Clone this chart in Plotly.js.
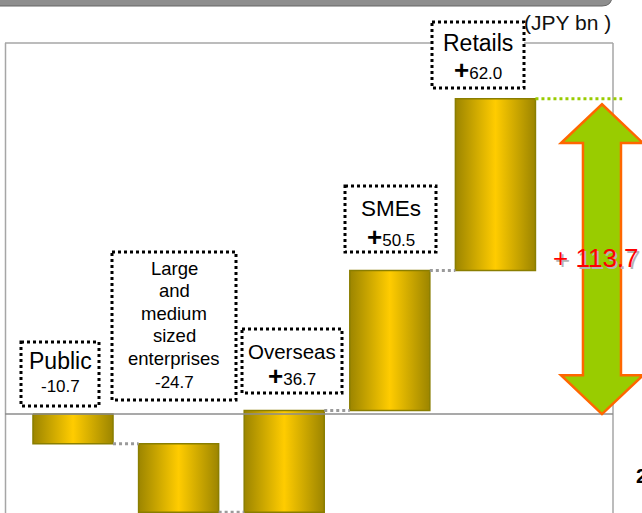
<!DOCTYPE html>
<html><head><meta charset="utf-8">
<script src="https://cdn.plot.ly/plotly-3.0.1.min.js"></script>
<style>html,body{margin:0;padding:0;background:#fff}#chart{width:642px;height:513px}</style>
</head><body><div id="chart"></div>
<script>
// ---- data ----
const categories = ['Public', 'Large and medium sized enterprises', 'Overseas', 'SMEs', 'Retails'];
const changes = [-10.7, -24.7, 36.7, 50.5, 62.0];
const totalChange = 113.7;
const totalLabel = '+ 113.7';
const unitLabel = '(JPY bn )';

// ---- layout geometry (style) ----
const W = 642, H = 513, ML = 5, MR = 0, MT = 43, MB = 0;
const xRange = [-0.644, 5.388], yRange = [-35.7, 133.9];
const xp = px => (px - ML) / (W - ML - MR);
const yp = py => (H - MB - py) / (H - MT - MB);
const FONT = '"Liberation Sans",Arial,sans-serif';

// cumulative levels
const bases = [], ends = [];
let cum = 0;
changes.forEach(v => { bases.push(cum); cum += v; ends.push(cum); });
const halfW = 0.379;

const traces = changes.map((v, i) => ({
  type: 'scatter', mode: 'lines',
  x: [i - halfW, i + halfW, i + halfW, i - halfW, i - halfW],
  y: [bases[i], bases[i], ends[i], ends[i], bases[i]],
  fill: 'toself', fillcolor: '#FFCC00',
  fillgradient: {type: 'horizontal', colorscale: [[0, '#9C8500'], [0.5, '#FFCC00'], [1, '#9C8500']]},
  line: {color: '#8A7E00', width: 1.5},
  name: categories[i], hoverinfo: 'skip', showlegend: false
}));

const shapes = [];
// partial banner at top
shapes.push({type: 'path', xref: 'paper', yref: 'paper',
  path: `M ${xp(-10)},${yp(-30)} L ${xp(600)},${yp(-30)} Q ${xp(612)},${yp(-30)} ${xp(612)},${yp(-5)} L ${xp(612)},${yp(-4)} Q ${xp(612)},${yp(6)} ${xp(602)},${yp(6)} L ${xp(-10)},${yp(6)} Z`,
  fillcolor: '#8E8E8E', line: {color: '#666', width: 1}});
// frame
const frameCol = '#A6A6A6';
shapes.push({type: 'line', xref: 'paper', yref: 'paper', x0: xp(5), x1: xp(613), y0: 1, y1: 1, line: {color: frameCol, width: 1.5}});
shapes.push({type: 'line', xref: 'paper', yref: 'paper', x0: xp(5.5), x1: xp(5.5), y0: 0, y1: 1, line: {color: frameCol, width: 1.5}});
shapes.push({type: 'line', xref: 'paper', yref: 'paper', x0: xp(613), x1: xp(613), y0: 0, y1: 1, line: {color: frameCol, width: 1.5}});
// zero line
shapes.push({type: 'line', xref: 'paper', yref: 'y', x0: xp(5), x1: xp(613), y0: 0, y1: 0, line: {color: '#8C8C8C', width: 1.5}});
// connectors
for (let i = 0; i < changes.length - 1; i++) {
  shapes.push({type: 'line', xref: 'x', yref: 'y', x0: i + halfW, x1: i + 1 - halfW, y0: ends[i], y1: ends[i],
    line: {color: '#9A9A9A', width: 3, dash: 'dot'}});
}
// green dotted line at final level
const last = changes.length - 1;
shapes.push({type: 'line', xref: 'x', yref: 'y', x0: last + halfW, x1: 5.2, y0: ends[last], y1: ends[last],
  line: {color: '#99CC00', width: 3, dash: 'dot'}});
// double arrow for total
(function () {
  const cx = 5.009, hw = 0.388, sw = 0.18, hl = 14, y0 = 0, y1 = totalChange - 1.9;
  const p = [[cx, y1], [cx + hw, y1 - hl], [cx + sw, y1 - hl], [cx + sw, y0 + hl], [cx + hw, y0 + hl], [cx, y0],
    [cx - hw, y0 + hl], [cx - sw, y0 + hl], [cx - sw, y1 - hl], [cx - hw, y1 - hl]];
  shapes.push({type: 'path', xref: 'x', yref: 'y', path: 'M ' + p.map(q => q[0] + ',' + q[1]).join(' L ') + ' Z',
    fillcolor: '#99CC00', line: {color: '#FF6600', width: 2.5}});
})();

// label boxes (pixel geometry)
const boxes = [
  {x0: 21, x1: 99, y0: 342, y1: 406, ty: 361, step: 0, vy: 386, size: 23},
  {x0: 112, x1: 236, y0: 252, y1: 400, ty: 268, step: 22.6, vy: 382, size: 18.5},
  {x0: 242, x1: 342, y0: 329, y1: 393, ty: 351, step: 0, vy: 376, size: 20.5},
  {x0: 345, x1: 436, y0: 186, y1: 252, ty: 209, step: 0, vy: 237, size: 22.5},
  {x0: 432, x1: 524, y0: 22, y1: 88, ty: 43, step: 0, vy: 70, size: 23}
];
const annotations = [];
boxes.forEach((b, i) => {
  shapes.push({type: 'rect', xref: 'paper', yref: 'paper', x0: xp(b.x0), x1: xp(b.x1), y0: yp(b.y0), y1: yp(b.y1),
    fillcolor: '#FFFFFF', line: {color: '#000000', width: 3, dash: 'dot'}});
  const cx = xp((b.x0 + b.x1) / 2);
  categories[i].split(' ').forEach((w, k) => {
    annotations.push({xref: 'paper', yref: 'paper', x: cx, y: yp(b.ty + k * b.step), text: w, showarrow: false,
      xanchor: 'center', yanchor: 'middle', font: {family: FONT, size: b.size, color: '#000'}});
  });
  const v = changes[i];
  const vt = v < 0 ? v.toFixed(1) : '<span style="font-size:26px"><b>+</b></span>' + v.toFixed(1);
  annotations.push({xref: 'paper', yref: 'paper', x: cx, y: yp(b.vy), text: vt, showarrow: false,
    xanchor: 'center', yanchor: 'middle', font: {family: FONT, size: 17, color: '#000'}});
});
// total label with shadow
annotations.push({xref: 'paper', yref: 'paper', x: xp(598), y: yp(260), text: totalLabel, showarrow: false,
  xanchor: 'center', yanchor: 'middle', font: {family: FONT, size: 26, color: '#B4B4B4'}});
annotations.push({xref: 'paper', yref: 'paper', x: xp(596), y: yp(258), text: totalLabel, showarrow: false,
  xanchor: 'center', yanchor: 'middle', font: {family: FONT, size: 26, color: '#FF0000'}});
// unit
annotations.push({xref: 'paper', yref: 'paper', x: xp(613), y: yp(22), text: unitLabel, showarrow: false,
  xanchor: 'right', yanchor: 'middle', font: {family: FONT, size: 21, color: '#111'}});
// partial glyph at bottom right edge
annotations.push({xref: 'paper', yref: 'paper', x: xp(634), y: yp(476), text: '<b>2</b>', showarrow: false,
  xanchor: 'left', yanchor: 'middle', font: {family: FONT, size: 20, color: '#000'}});

const layout = {
  width: W, height: H, margin: {l: ML, r: MR, t: MT, b: MB, pad: 0},
  paper_bgcolor: '#FFFFFF', plot_bgcolor: '#FFFFFF', showlegend: false,
  xaxis: {range: xRange, visible: false, fixedrange: true},
  yaxis: {range: yRange, visible: false, fixedrange: true},
  shapes: shapes, annotations: annotations
};
Plotly.newPlot('chart', traces, layout, {displayModeBar: false, staticPlot: true});
</script>
</body></html>
